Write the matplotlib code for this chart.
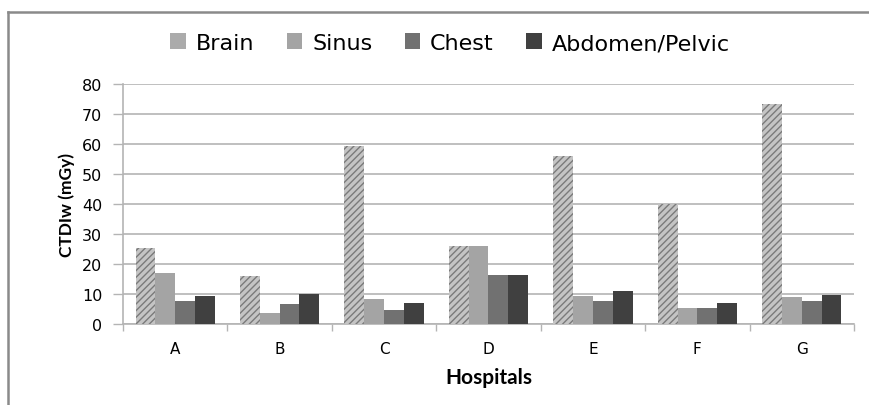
import numpy as np
import matplotlib.pyplot as plt
from matplotlib.patches import Patch
from matplotlib.lines import Line2D

hospitals = ['A', 'B', 'C', 'D', 'E', 'F', 'G']
brain = [25.2, 16.0, 59.5, 26.0, 56.0, 40.0, 73.2]
sinus = [17.1, 3.7, 8.4, 26.0, 9.2, 5.2, 8.9]
chest = [7.6, 6.8, 4.7, 16.2, 7.7, 5.2, 7.6]
abdomen = [9.5, 9.9, 7.1, 16.2, 11.0, 7.0, 9.8]
series_names = ['Brain', 'Sinus', 'Chest', 'Abdomen/Pelvic']

colors = ['#c4c4c4', '#a4a4a4', '#717171', '#404040']
legend_colors = ['#ababab', '#a4a4a4', '#717171', '#404040']
grid_c = '#b4b4b4'

plt.rcParams['hatch.linewidth'] = 1.0

fig = plt.figure(figsize=(8.69, 4.06), dpi=100)
ax = fig.add_axes([123 / 869, 1 - 325 / 406, (854 - 123) / 869, 240 / 406])

x = np.arange(len(hospitals))
w = 0.19
series = [brain, sinus, chest, abdomen]
for i, vals in enumerate(series):
    pos = x + (i - 1.5) * w
    if i == 0:
        ax.bar(pos, vals, w, color=colors[0], edgecolor='#7a7a7a',
               linewidth=0, hatch='/////', zorder=3)
    else:
        ax.bar(pos, vals, w, color=colors[i], linewidth=0, zorder=3)

ax.set_xlim(-0.5, len(hospitals) - 0.5)
ax.set_ylim(0, 80)
ax.set_yticks(range(0, 81, 10))
ax.set_xticks(x)
ax.set_xticklabels(hospitals, fontsize=11, family='DejaVu Sans')
ax.set_xticks(np.arange(-0.5, len(hospitals)), minor=True)
ax.tick_params(axis='x', which='major', length=0, pad=12)
ax.tick_params(axis='x', which='minor', length=5, color=grid_c, width=1)
ax.tick_params(axis='y', length=7, color=grid_c, width=1, labelsize=11.5, pad=8)
for lab in ax.get_yticklabels():
    lab.set_family('DejaVu Sans')

ax.yaxis.grid(True, color=grid_c, linewidth=1.2, zorder=0)
ax.set_axisbelow(True)
for s in ['top', 'right']:
    ax.spines[s].set_visible(False)
for s in ['left', 'bottom']:
    ax.spines[s].set_color(grid_c)
    ax.spines[s].set_linewidth(1.2)

ax.set_ylabel('CTDIw (mGy)', fontsize=12.5, fontweight='bold', family='Lato', labelpad=5)
ax.set_xlabel('Hospitals', fontsize=15, fontweight='bold', family='Lato', labelpad=8)

handles = [Patch(facecolor=c, edgecolor='none') for c in legend_colors]
fig.legend(handles, series_names, loc='center', bbox_to_anchor=(450 / 869, 1 - 44 / 406),
           ncol=4, frameon=False, prop={'family': 'DejaVu Sans', 'size': 16},
           handlelength=0.7, handleheight=0.7, handletextpad=0.45, columnspacing=1.45)

# outer frame (only top and left edges are visible in the crop)
fig.add_artist(Line2D([8 / 869, 1.0], [1 - 13 / 406] * 2, transform=fig.transFigure,
                      color='#8a8a8a', linewidth=1.8))
fig.add_artist(Line2D([8 / 869] * 2, [0, 1 - 13 / 406], transform=fig.transFigure,
                      color='#8a8a8a', linewidth=1.8))

fig.savefig('out.png', dpi=100)
